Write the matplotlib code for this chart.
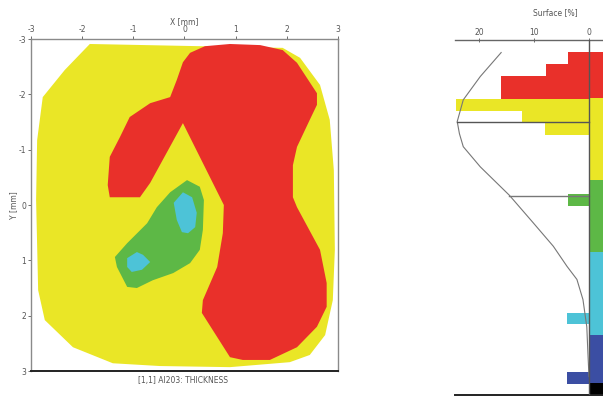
import numpy as np
import matplotlib
matplotlib.use('Agg')
import matplotlib.pyplot as plt

plt.rcParams['axes.unicode_minus'] = False

# ---- thickness map: class regions as polygons (X, Y in mm) ----
yellow_x = [-1.85, 1.92, 2.26, 2.65, 2.84, 2.92, 2.94, 2.90, 2.75, 2.45, 2.06,
            0.89, -0.48, -1.40, -2.18, -2.73, -2.86, -2.90, -2.88, -2.77, -2.34]
yellow_y = [-2.91, -2.84, -2.66, -2.17, -1.54, -0.63, 0.81, 1.72, 2.35, 2.71, 2.84,
            2.93, 2.91, 2.86, 2.57, 2.08, 1.54, -0.09, -1.17, -1.95, -2.44]

red_x = [0.11, 0.40, 0.89, 1.48, 1.92, 2.20, 2.59, 2.59, 2.45, 2.20, 2.12, 2.12,
         2.20, 2.65, 2.78, 2.78, 2.59, 2.20, 1.67, 1.14, 0.89, 0.34, 0.36, 0.64,
         0.75, 0.77, -0.03, -0.67, -0.87, -1.46, -1.50, -1.46, -1.26, -1.07,
         -0.67, -0.28, -0.15, -0.03]
red_y = [-2.75, -2.87, -2.91, -2.89, -2.80, -2.57, -2.02, -1.81, -1.54, -1.05,
         -0.72, -0.14, 0.04, 0.81, 1.41, 1.84, 2.20, 2.57, 2.80, 2.80, 2.75, 1.95,
         1.72, 1.12, 0.51, 0.00, -1.48, -0.40, -0.14, -0.14, -0.36, -0.87, -1.23,
         -1.59, -1.84, -1.95, -2.26, -2.58]

green_x = [0.05, 0.30, 0.38, 0.36, 0.30, 0.11, -0.22, -0.62, -0.93, -1.12, -1.32,
           -1.36, -1.12, -0.73, -0.54, -0.28]
green_y = [-0.45, -0.33, -0.09, 0.45, 0.81, 1.05, 1.23, 1.36, 1.50, 1.48, 1.12,
           0.94, 0.69, 0.33, 0.04, -0.23]

cyan1_x = [-0.03, 0.15, 0.24, 0.21, 0.07, -0.05, -0.15, -0.21]
cyan1_y = [-0.23, -0.14, 0.14, 0.40, 0.51, 0.49, 0.27, -0.04]

cyan2_x = [-1.12, -0.93, -0.81, -0.67, -0.83, -1.03, -1.12]
cyan2_y = [0.96, 0.85, 0.90, 1.03, 1.17, 1.21, 1.12]

# ---- histogram (thickness class bins, surface %) ----
hist_bin = [0, 1, 2, 3, 4, 5, 6, 12, 22, 27]
hist_pct = [3.8, 7.8, 16.0, 16.0, 24.2, 12.2, 8.0, 3.8, 4.0, 4.0]
hist_cls = ['red', 'red', 'red', 'red', 'yellow', 'yellow', 'yellow',
            'green', 'cyan', 'blue']

# colour scale strip (class edges in bin units)
strip_edges = [0.0, 3.9, 10.8, 16.9, 23.9, 27.9, 29.0]
strip_cls = ['red', 'yellow', 'green', 'cyan', 'blue', 'black']

# fitted distribution curve (bin, %)
curve_bin = [0.06, 2.08, 4.05, 5.88, 6.9, 8.0, 9.7, 12.1, 14.4, 16.4, 18.1,
             19.2, 20.9, 23.2, 25.4, 27.4]
curve_pct = [16.0, 19.8, 22.9, 24.0, 23.6, 22.9, 19.8, 14.5, 10.2, 6.5, 4.0,
             2.2, 1.1, 0.4, 0.2, 0.0]

mean_line = (5.9, 24.0)
sd_line = (12.15, 14.5)

COLORS = {'red': '#E9302A', 'yellow': '#EAE626', 'green': '#5DB846',
          'cyan': '#4DC3D7', 'blue': '#3B4EA3', 'black': '#000000'}
TXT = '#555555'

fig = plt.figure(figsize=(6.03, 3.96), dpi=100)

# ── map panel ──────────────────────────────────────────────────────────
ax = fig.add_axes([0.0514, 0.0631, 0.509, 0.8384])
ax.fill(yellow_x, yellow_y, color=COLORS['yellow'], lw=0)
ax.fill(red_x, red_y, color=COLORS['red'], lw=0)
ax.fill(green_x, green_y, color=COLORS['green'], lw=0)
ax.fill(cyan1_x, cyan1_y, color=COLORS['cyan'], lw=0)
ax.fill(cyan2_x, cyan2_y, color=COLORS['cyan'], lw=0)
ax.set_xlim(-3, 3)
ax.set_ylim(3, -3)
ax.set_xticks(range(-3, 4))
ax.set_yticks(range(-3, 4))
ax.xaxis.tick_top()
ax.xaxis.set_label_position('top')
ax.tick_params(axis='both', labelsize=5.5, colors=TXT, length=2.5, width=0.6, pad=1)
ax.set_xlabel('X [mm]', fontsize=5.5, color=TXT, labelpad=1)
ax.set_ylabel('Y [mm]', fontsize=5.5, color=TXT, labelpad=0)
for side in ('left', 'top', 'right'):
    ax.spines[side].set_color('#8a8a8a')
    ax.spines[side].set_linewidth(1.0)
ax.spines['bottom'].set_color('#222222')
ax.spines['bottom'].set_linewidth(1.4)
fig.text(0.303, 0.038, '[1,1] AI203: THICKNESS', fontsize=5.5, color=TXT,
         ha='center', va='center')

# ── histogram panel ────────────────────────────────────────────────────
ah = fig.add_axes([0.7546, 0.0025, 0.2454, 0.8965])
for b, v, c in zip(hist_bin, hist_pct, hist_cls):
    ah.barh(b, v, height=1.0, align='edge', color=COLORS[c], lw=0)
for lo, hi, c in zip(strip_edges[:-1], strip_edges[1:], strip_cls):
    ah.barh(lo, -3.0, height=hi - lo, align='edge', color=COLORS[c], lw=0)
ah.plot(curve_pct, curve_bin, color='#777777', lw=0.8)
ah.plot([mean_line[1], 0], [mean_line[0]] * 2, color='#555555', lw=1.0)
ah.plot([sd_line[1], 0], [sd_line[0]] * 2, color='#777777', lw=1.0)
ah.axvline(0, color='#555555', lw=1.0, zorder=5)
ah.set_xlim(24.4, -2.55)
ah.set_ylim(28.95, -1.0)
ah.set_xticks([20, 10, 0])
ah.set_yticks([])
ah.xaxis.tick_top()
ah.xaxis.set_label_position('top')
ah.tick_params(axis='x', labelsize=5.5, colors=TXT, length=2.5, width=0.6,
               pad=1, direction='inout')
ah.set_xlabel('Surface [%]', fontsize=5.5, color=TXT, labelpad=9)
ah.xaxis.label.set_position((0.68, 1))
for side in ('left', 'right'):
    ah.spines[side].set_visible(False)
ah.spines['top'].set_color('#666666')
ah.spines['top'].set_linewidth(1.0)
ah.spines['bottom'].set_color('#222222')
ah.spines['bottom'].set_linewidth(1.4)

fig.savefig('out.png', dpi=100)
